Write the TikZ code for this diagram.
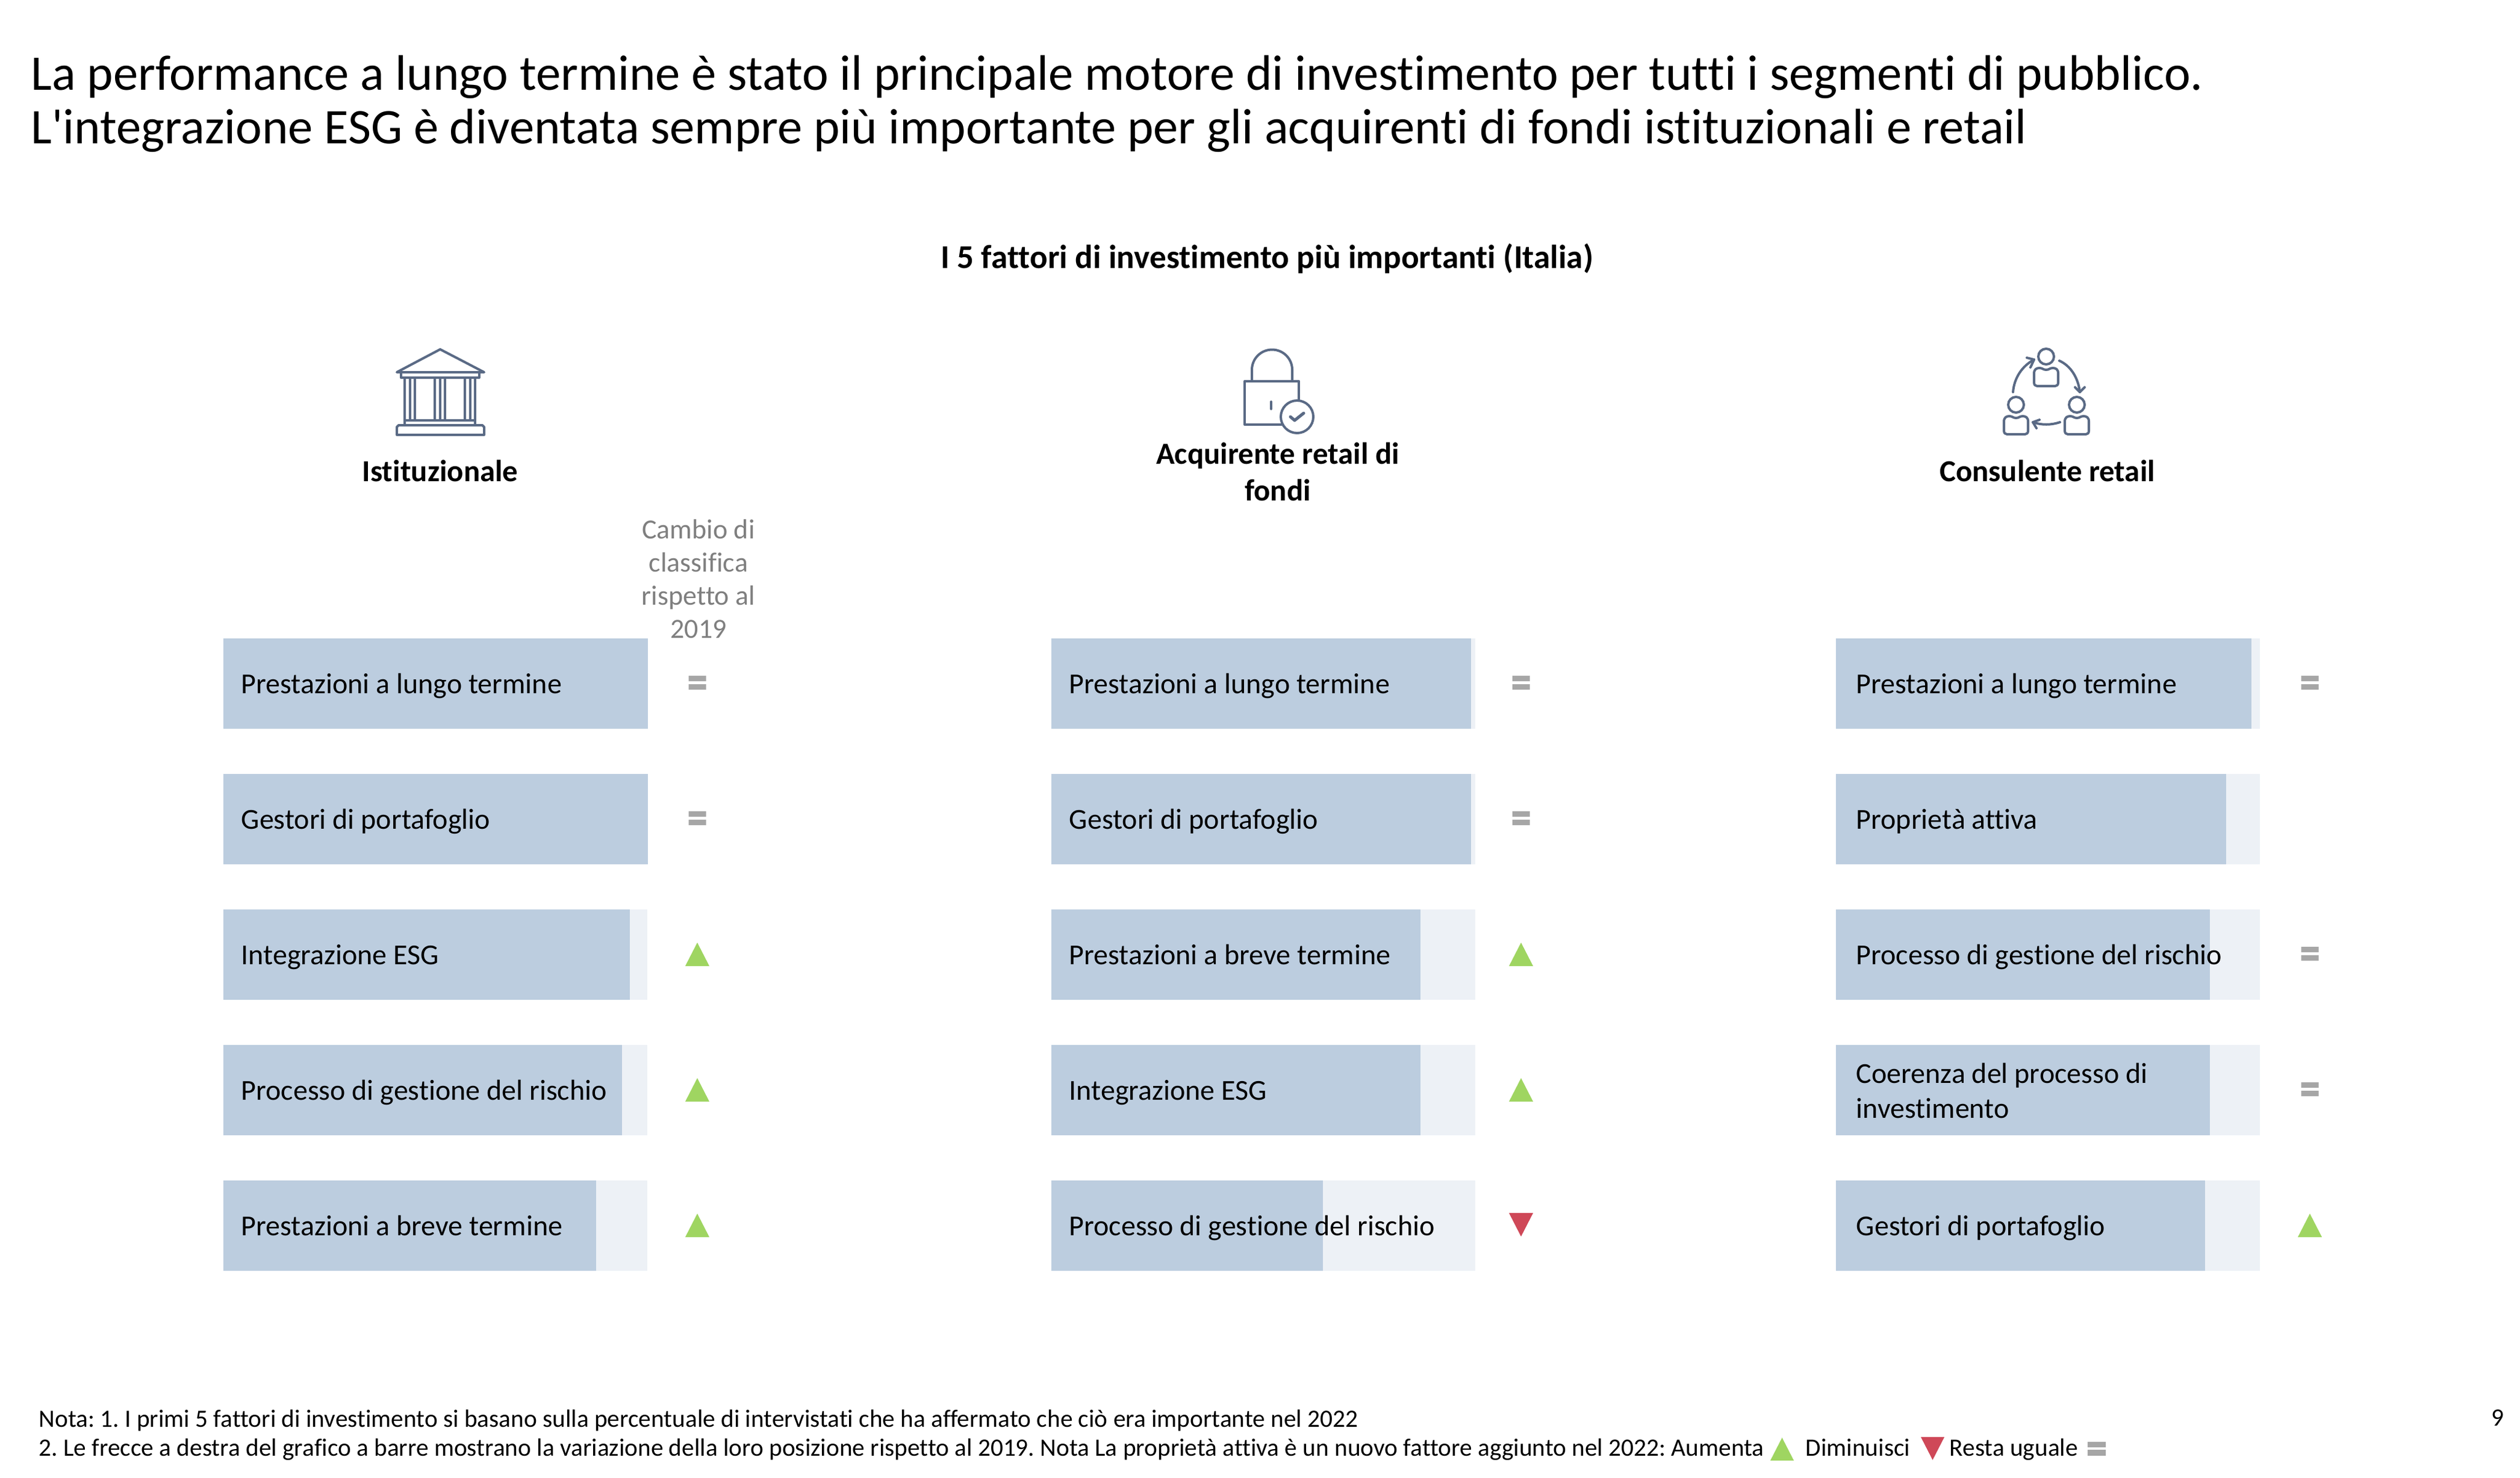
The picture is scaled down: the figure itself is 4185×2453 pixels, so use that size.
\documentclass[tikz,border=0pt]{standalone}
\usepackage{fontspec}
\setmainfont{Carlito}
\newfontfamily\carl{Carlito}[Ligatures=NoCommon]
\frenchspacing
\definecolor{barfill}{HTML}{BCCDDF}
\definecolor{bartrack}{HTML}{EDF1F6}
\definecolor{iconcol}{HTML}{5A6A85}
\definecolor{upcol}{HTML}{9FD561}
\definecolor{downcol}{HTML}{CF4858}
\definecolor{samecol}{HTML}{A6A6A6}
\definecolor{graytxt}{HTML}{7F7F7F}
\tikzset{
  x=0.25pt,y=-0.25pt,
  titletxt/.style={anchor=base west,inner sep=0,font=\carl\fontsize{20.68}{20.68}\selectfont},
  subtxt/.style={anchor=base,inner sep=0,font=\carl\fontsize{13.8}{14.5}\selectfont\bfseries},
  headtxt/.style={anchor=base,inner sep=0,font=\carl\fontsize{12.7}{14.5}\selectfont\bfseries},
  labtxt/.style={anchor=base west,inner sep=0,font=\carl\fontsize{12}{14.5}\selectfont},
  notetxt/.style={anchor=base west,inner sep=0,font=\carl\fontsize{10.33}{10.33}\selectfont},
  graylab/.style={anchor=center,inner sep=0,align=center,text=graytxt,font=\carl\fontsize{11.5}{13.75}\selectfont},
  icon/.style={draw=iconcol,line width=1pt,line cap=round,line join=round},
}
% #1 left, #2 fill right, #3 row top, #4 node name, #5 text
\newcommand{\FBar}[5]{%
  \fill[bartrack] (#1,#3) rectangle ++(704,150);
  \fill[barfill] (#1,#3) rectangle (#2,#3+150);
  \node[labtxt] (#4) at (#1+29,#3+91) {#5};
}
\newcommand{\FBarC}[5]{%
  \fill[bartrack] (#1,#3) rectangle ++(704,150);
  \fill[barfill] (#1,#3) rectangle (#2,#3+150);
  \node[labtxt] (#4) at (#1+33,#3+91) {#5};
}
\newcommand{\SUp}[2]{\fill[upcol] (#1-20,#2+20) -- (#1+20,#2+20) -- (#1,#2-19) -- cycle;}
\newcommand{\SDown}[2]{\fill[downcol] (#1-20,#2-19) -- (#1+20,#2-19) -- (#1,#2+20) -- cycle;}
\newcommand{\SSame}[2]{\fill[samecol] (#1-14.5,#2-11) rectangle (#1+14.5,#2-2) (#1-14.5,#2+3) rectangle (#1+14.5,#2+12);}
% person: head centre x y
\newcommand{\Person}[2]{%
  \draw[icon] (#1,#2) circle (13);
  \draw[icon] (#1-20,#2+28) .. controls (#1-20,#2+21) and (#1-16,#2+19) .. (#1-11,#2+19)
     .. controls (#1-6,#2+19) and (#1-5,#2+22) .. (#1,#2+22)
     .. controls (#1+5,#2+22) and (#1+6,#2+19) .. (#1+11,#2+19)
     .. controls (#1+16,#2+19) and (#1+20,#2+21) .. (#1+20,#2+28)
     -- (#1+20,#2+43) .. controls (#1+20,#2+47) and (#1+18,#2+49) .. (#1+15,#2+49)
     -- (#1-15,#2+49) .. controls (#1-18,#2+49) and (#1-20,#2+47) .. (#1-20,#2+43) -- cycle;
}
\begin{document}
\begin{tikzpicture}
\useasboundingbox (0,0) rectangle (4185,2453);
\fill[white] (0,0) rectangle (4185,2453);
% title
\node[titletxt] (t1) at (51,149) {La performance a lungo termine è stato il principale motore di investimento per tutti i segmenti di pubblico.};
\node[titletxt] (t2) at (51,238) {L'integrazione ESG è diventata sempre più importante per gli acquirenti di fondi istituzionali e retail};
\node[subtxt] (sub) at (2104,445) {I 5 fattori di investimento più importanti (Italia)};
% headers
\node[headtxt] (h1) at (731,799) {Istituzionale};
\node[headtxt] (h2a) at (2122,770) {Acquirente retail di};
\node[headtxt] (h2b) at (2122,831) {fondi};
\node[headtxt] (h3) at (3400,799) {Consulente retail};
\node[graylab] (cambio) at (1160,961) {Cambio di\\classifica\\rispetto al\\2019};
% bank icon
\draw[icon] (731,580) -- (804,618) -- (659,618) -- cycle;
\draw[icon] (666,618) rectangle (796,627);
\draw[icon] (672,627) -- (672,698) (681,627) -- (681,698) (689,627) -- (689,698);
\draw[icon] (722,627) -- (722,698) (731,627) -- (731,698) (739,627) -- (739,698);
\draw[icon] (772,627) -- (772,698) (781,627) -- (781,698) (789,627) -- (789,698);
\draw[icon] (672,698) -- (789,698) (672,698) -- (672,706) (789,698) -- (789,706);
\draw[icon] (659,709) -- (659,722) -- (804,722) -- (804,709) -- (801,706) -- (662,706) -- cycle;
% lock icon
\draw[icon] (2079,633) -- (2079,614) arc[start angle=180,end angle=360,radius=33.5] -- (2146,633);
\draw[icon] (2157,663) -- (2157,633) -- (2067,633) -- (2067,705) -- (2128,705);
\draw[icon] (2111,667) -- (2111,679);
\draw[icon] (2154,692) circle (27);
\draw[icon,line width=1.25pt] (2143,692) -- (2150,698) -- (2165,686);
% people icon
\Person{3398}{592}
\Person{3348}{672}
\Person{3449}{672}
\draw[icon] (3343,651) .. controls (3345,627) and (3358,608) .. (3378,597);
\draw[icon] (3366,594) -- (3378,597) -- (3372,610);
\draw[icon] (3420,599) .. controls (3438,607) and (3451,626) .. (3454,651);
\draw[icon] (3446,643) -- (3454,651) -- (3462,643);
\draw[icon] (3421,701) .. controls (3406,706) and (3390,706) .. (3376,701);
\draw[icon] (3387,697) -- (3376,701) -- (3382,711);
% column 1
\FBar{371}{1076}{1060}{a1}{Prestazioni a lungo termine}
\FBar{371}{1076}{1285}{a2}{Gestori di portafoglio}
\FBar{371}{1046}{1510}{a3}{Integrazione ESG}
\FBar{371}{1033}{1735}{a4}{Processo di gestione del rischio}
\FBar{371}{990}{1960}{a5}{Prestazioni a breve termine}
\SSame{1158}{1133}\SSame{1158}{1358}
\SUp{1158}{1584}\SUp{1158}{1809}\SUp{1158}{2034}
% column 2
\FBar{1746}{2443}{1060}{b1}{Prestazioni a lungo termine}
\FBar{1746}{2443}{1285}{b2}{Gestori di portafoglio}
\FBar{1746}{2359}{1510}{b3}{Prestazioni a breve termine}
\FBar{1746}{2359}{1735}{b4}{Integrazione ESG}
\FBar{1746}{2197}{1960}{b5}{Processo di gestione del rischio}
\SSame{2526}{1133}\SSame{2526}{1358}
\SUp{2526}{1584}\SUp{2526}{1809}\SDown{2526}{2033}
% column 3
\FBarC{3049}{3739}{1060}{c1}{Prestazioni a lungo termine}
\FBarC{3049}{3697}{1285}{c2}{Proprietà attiva}
\FBarC{3049}{3670}{1510}{c3}{Processo di gestione del rischio}
\FBarC{3049}{3670}{1735}{c4}{}
\node[labtxt] (c4a) at (3082,1798) {Coerenza del processo di};
\node[labtxt] (c4b) at (3082,1856) {investimento};
\FBarC{3049}{3662}{1960}{c5}{Gestori di portafoglio}
\SSame{3836}{1133}
\SSame{3836}{1583}\SSame{3836}{1808}\SUp{3836}{2034}
% footnotes
\node[notetxt] (n1) at (64,2369) {Nota: 1. I primi 5 fattori di investimento si basano sulla percentuale di intervistati che ha affermato che ciò era importante nel 2022};
\node[notetxt] (n2) at (64,2417) {2. Le frecce a destra del grafico a barre mostrano la variazione della loro posizione rispetto al 2019. Nota La proprietà attiva è un nuovo fattore aggiunto nel 2022: Aumenta};
\fill[upcol] (2940,2425) -- (2979,2425) -- (2959.5,2387) -- cycle;
\node[notetxt] (n3) at (2998,2417) {Diminuisci};
\fill[downcol] (3190,2386) -- (3229,2386) -- (3209.5,2424) -- cycle;
\node[notetxt] (n4) at (3237,2417) {Resta uguale};
\fill[samecol] (3467,2394) rectangle (3497,2403) (3467,2407) rectangle (3497,2417);
\node[notetxt] (pg) at (4137,2367) {9};
\end{tikzpicture}
\end{document}
